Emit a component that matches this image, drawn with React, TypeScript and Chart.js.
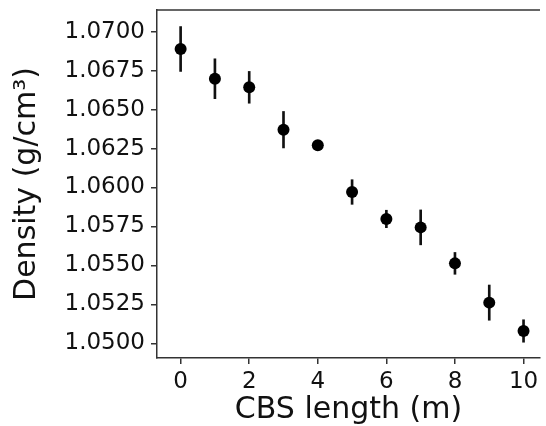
import React, { useEffect, useRef } from "react";
import { Chart, registerables } from "chart.js";

Chart.register(...registerables);

// CBS length (m)
const lengths = [0, 1, 2, 3, 4, 5, 6, 7, 8, 9, 10];
// Density (g/cm^3)
const density = [1.06889, 1.06698, 1.06643, 1.06371, 1.06271, 1.05971, 1.05798, 1.05744, 1.05513, 1.05261, 1.05079];
// symmetric error
const densityErr = [0.00144, 0.00128, 0.00102, 0.00117, 0.0003, 0.00079, 0.00056, 0.00112, 0.0007, 0.00113, 0.00072];

const xTicks = [0, 2, 4, 6, 8, 10];
const yTicks = [1.05, 1.0525, 1.055, 1.0575, 1.06, 1.0625, 1.065, 1.0675, 1.07];

const FONT = "'DejaVu Sans', sans-serif";

const topSpine = {
  id: "topSpine",
  afterDraw(chart: any) {
    const { ctx, chartArea } = chart;
    ctx.save();
    ctx.strokeStyle = "#333";
    ctx.lineWidth = 1.5;
    ctx.beginPath();
    ctx.moveTo(chartArea.left, chartArea.top);
    ctx.lineTo(chartArea.right, chartArea.top);
    ctx.stroke();
    ctx.restore();
  },
};

export default function App() {
  const ref = useRef<HTMLCanvasElement | null>(null);

  useEffect(() => {
    if (!ref.current) return;
    const points = lengths.map((x, i) => ({ x, y: density[i] }));
    const bars = lengths.map((x, i) => ({ x, y: [density[i] - densityErr[i], density[i] + densityErr[i]] }));
    const chart = new Chart(ref.current, {
      type: "scatter",
      data: {
        datasets: [
          {
            type: "scatter",
            data: points,
            pointRadius: 6,
            pointHoverRadius: 6,
            pointBackgroundColor: "#000",
            pointBorderWidth: 0,
            borderColor: "#000",
          } as any,
          {
            type: "bar",
            data: bars,
            backgroundColor: "#111",
            borderWidth: 0,
            barThickness: 2,
          } as any,
        ],
      },
      options: {
        responsive: false,
        animation: false,
        events: [],
        layout: { padding: { top: 10, right: 0, left: 0, bottom: 0 } },
        plugins: { legend: { display: false }, tooltip: { enabled: false }, title: { display: false } },
        scales: {
          x: {
            type: "linear",
            min: -0.689,
            max: 10.48,
            offset: false,
            afterBuildTicks: (s: any) => {
              s.ticks = xTicks.map((v) => ({ value: v }));
            },
            afterFit: (s: any) => {
              s.height = 68;
              s.paddingLeft = 0;
              s.paddingRight = 0;
            },
            grid: { display: true, offset: false, drawOnChartArea: false, drawTicks: true, tickLength: 6, tickColor: "#333", lineWidth: 1.5 },
            border: { display: true, color: "#333", width: 1.5 },
            ticks: {
              color: "#111",
              padding: 4,
              maxRotation: 0,
              font: { family: FONT, size: 23 },
              callback: (v: any) => String(v),
            },
            title: {
              display: true,
              text: "CBS length (m)",
              color: "#111",
              font: { family: FONT, size: 30, lineHeight: 1 },
              padding: { top: 0, bottom: 1 },
            },
          },
          y: {
            type: "linear",
            min: 1.049056,
            max: 1.071393,
            afterBuildTicks: (s: any) => {
              s.ticks = yTicks.map((v) => ({ value: v }));
            },
            afterFit: (s: any) => {
              s.width = 157;
              s.paddingTop = 0;
              s.paddingBottom = 0;
            },
            grid: { display: true, offset: false, drawOnChartArea: false, drawTicks: true, tickLength: 6, tickColor: "#333", lineWidth: 1.5 },
            border: { display: true, color: "#333", width: 1.5 },
            ticks: {
              color: "#111",
              padding: 6,
              font: { family: FONT, size: 23 },
              callback: (v: any) => Number(v).toFixed(4),
            },
            title: {
              display: true,
              text: "Density (g/cm³)",
              color: "#111",
              font: { family: FONT, size: 30, lineHeight: 1 },
              padding: { top: 12, bottom: 0 },
            },
          },
        },
      },
      plugins: [topSpine],
    });
    return () => chart.destroy();
  }, []);

  return (
    <div style={{ position: "fixed", left: 0, top: 0, width: 546, height: 426, background: "#fff" }}>
      <canvas ref={ref} width={546} height={426} style={{ display: "block" }} />
    </div>
  );
}
